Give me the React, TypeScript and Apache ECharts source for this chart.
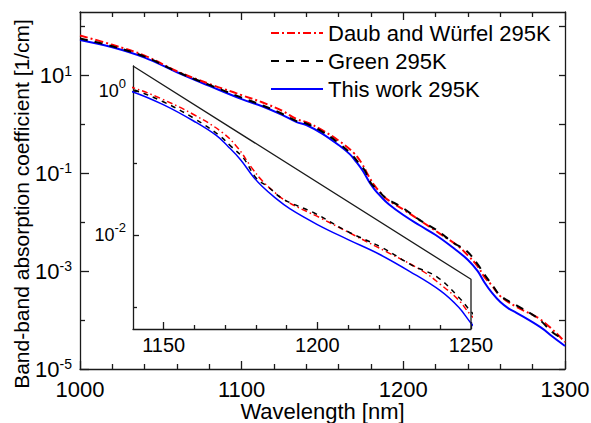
import React, { useEffect, useRef } from 'react';
import * as echarts from 'echarts';

const FONT = '"Liberation Sans", Arial, Helvetica, sans-serif';

const seriesNames = ['Daub and Würfel 295K', 'Green 295K', 'This work 295K'];

// Daub and Würfel 295K : wavelength [nm] / absorption coefficient [1/cm]
const daubWavelength = [1000, 1020, 1040, 1060, 1080, 1095, 1100, 1113, 1125, 1134, 1140, 1149, 1160, 1169, 1174, 1178.6, 1182, 1186, 1190, 1201, 1212, 1223, 1234, 1240, 1246, 1250, 1255, 1260, 1270, 1285, 1300];
const daubAlpha = [66.1, 42.7, 25.7, 12.3, 6.76, 4.57, 3.98, 2.82, 1.91, 1.29, 1.12, 0.794, 0.468, 0.269, 0.166, 0.0871, 0.0575, 0.0398, 0.0295, 0.0174, 0.0100, 0.00575, 0.00324, 0.00209, 0.00126, 0.000776, 0.000501, 0.000309, 0.000186, 0.000102, 0.0000355];

// Green 295K
const greenWavelength = [1000, 1020, 1040, 1060, 1080, 1100, 1113, 1125, 1134, 1140, 1150, 1160, 1168, 1172, 1176, 1180, 1184, 1189, 1199, 1210, 1221, 1231, 1239, 1246, 1250, 1255, 1260, 1270, 1283, 1293, 1300];
const greenAlpha = [57.5, 39.8, 24.5, 12.0, 6.46, 3.55, 2.45, 1.66, 1.17, 1.05, 0.708, 0.417, 0.245, 0.170, 0.117, 0.0631, 0.0468, 0.0316, 0.0204, 0.0112, 0.00676, 0.00380, 0.00263, 0.00138, 0.000871, 0.000525, 0.000316, 0.000200, 0.000110, 0.0000537, 0.0000398];

// This work 295K
const thisWorkWavelength = [1000, 1020, 1040, 1060, 1080, 1100, 1113, 1125, 1134, 1140, 1150, 1160, 1167, 1171, 1175, 1179, 1182, 1186, 1191, 1200, 1210, 1220, 1230, 1240, 1246, 1250, 1255, 1260, 1265, 1270, 1285, 1292, 1300];
const thisWorkAlpha = [53.7, 38.0, 23.4, 11.7, 6.17, 3.31, 2.34, 1.58, 1.12, 0.977, 0.646, 0.380, 0.245, 0.170, 0.112, 0.0661, 0.0479, 0.0339, 0.0234, 0.0141, 0.00871, 0.00550, 0.00316, 0.00170, 0.00100, 0.000603, 0.000355, 0.000234, 0.000174, 0.000141, 0.0000708, 0.0000468, 0.0000295];

// axes (exponents of 10 for the log axes)
const mainXRange = [1000, 1300];
const mainYRange = [1e-5, 200];
const mainYLabelExps = [-5, -3, -1, 1];
const mainYMinorExps = [-4, -2, 0, 2];
const mainYRightExps = [-5, -4, -3, -2, -1, 0, 1, 2];
const insetXRange = [1140, 1250];
const insetXLabels = [1150, 1200, 1250];
const insetXMinor = [1160, 1170, 1180, 1190, 1210, 1220, 1230, 1240];
const insetYRange = [5e-4, 2.24];
const insetYLabelExps = [0, -2];
const insetYMinorExps = [-1, -3];
// inset outline: diagonal top edge and right edge
const insetOutlineX = [1140, 1250, 1250];
const insetOutlineY = [2.24, 0.00245, 5e-4];

const lg = (v: number) => Math.log10(v);
const toPairs = (xs: number[], ys: number[]) => xs.map((x, i) => [x, lg(ys[i])]);

export default function App() {
  const ref = useRef<HTMLDivElement>(null);
  useEffect(() => {
    if (!ref.current) return;
    const chart = echarts.init(ref.current, undefined, { renderer: 'svg' });
    const axisCol = '#1a1a1a';
    const lineStyleAxis = { color: axisCol, width: 1.3 };
    const plain = (v: number) => String(v);

    const mainY = (extra: any) => ({
      type: 'value',
      gridIndex: 0,
      min: lg(mainYRange[0]),
      max: lg(mainYRange[1]),
      splitLine: { show: false },
      ...extra,
    });
    const insetY = (extra: any) => ({
      type: 'value',
      gridIndex: 1,
      min: lg(insetYRange[0]),
      max: lg(insetYRange[1]),
      splitLine: { show: false },
      ...extra,
    });

    const specs = [
      { name: seriesNames[2], xs: thisWorkWavelength, ys: thisWorkAlpha, color: '#0000ff', type: 'solid', instType: 'solid' },
      { name: seriesNames[0], xs: daubWavelength, ys: daubAlpha, color: '#ff0000', type: [8, 3, 2, 3], instType: [6, 3, 1.5, 3] },
      { name: seriesNames[1], xs: greenWavelength, ys: greenAlpha, color: '#000000', type: [8, 7], instType: [5, 5] },
    ];

    const series: any[] = [];
    specs.forEach((s) => {
      series.push({
        type: 'line', name: s.name, xAxisIndex: 0, yAxisIndex: 0,
        data: toPairs(s.xs, s.ys), symbol: 'none', smooth: 0.4,
        lineStyle: { color: s.color, width: 2, type: s.type, cap: 'butt' },
        itemStyle: { color: s.color }, silent: true,
      });
    });
    specs.forEach((s) => {
      series.push({
        type: 'line', name: s.name, xAxisIndex: 2, yAxisIndex: 3,
        data: toPairs(s.xs, s.ys), symbol: 'none', smooth: 0.4, clip: true,
        lineStyle: { color: s.color, width: 1.5, type: s.instType, cap: 'butt' },
        itemStyle: { color: s.color }, silent: true,
      });
    });
    series.push({
      type: 'line', name: 'inset outline', xAxisIndex: 2, yAxisIndex: 3,
      data: toPairs(insetOutlineX, insetOutlineY), symbol: 'none', clip: false,
      lineStyle: { color: axisCol, width: 1.3 }, silent: true,
    });

    chart.setOption({
      animation: false,
      backgroundColor: '#ffffff',
      textStyle: { fontFamily: FONT, color: '#000' },
      grid: [
        { left: 80, right: 26, top: 12, bottom: 54, outerBoundsMode: 'none' },
        { left: 133, right: 120, top: 66, bottom: 94, outerBoundsMode: 'none' },
      ],
      legend: {
        data: seriesNames,
        orient: 'vertical',
        left: 270,
        top: 22,
        padding: 0,
        itemWidth: 52,
        itemHeight: 14,
        itemGap: 6,
        selectedMode: false,
        itemStyle: { opacity: 0 },
        textStyle: { fontSize: 22, fontFamily: FONT, color: '#000' },
      },
      graphic: [
        {
          type: 'text', x: 21, y: 204, rotation: Math.PI / 2,
          style: {
            text: 'Band-band absorption coefficient [1/cm]',
            fontSize: 21, fontFamily: FONT, fill: '#000',
            align: 'center', verticalAlign: 'middle',
          },
        },
      ],
      xAxis: [
        {
          type: 'value', gridIndex: 0, position: 'bottom',
          min: mainXRange[0], max: mainXRange[1], interval: 100,
          axisLine: { onZero: false, lineStyle: lineStyleAxis },
          axisTick: { inside: true, length: 8, lineStyle: lineStyleAxis },
          minorTick: { show: true, splitNumber: 5, length: 5, lineStyle: lineStyleAxis },
          splitLine: { show: false },
          axisLabel: { fontSize: 22, margin: 9, color: '#000', fontFamily: FONT, formatter: plain },
          name: 'Wavelength [nm]', nameLocation: 'middle', nameGap: 31, nameMoveOverlap: false,
          nameTextStyle: { fontSize: 22, fontFamily: FONT, color: '#000' },
        },
        {
          type: 'value', gridIndex: 0, position: 'top',
          min: mainXRange[0], max: mainXRange[1], interval: 100,
          axisLine: { onZero: false, lineStyle: lineStyleAxis },
          axisTick: { inside: true, length: 8, lineStyle: lineStyleAxis },
          minorTick: { show: true, splitNumber: 5, length: 5, lineStyle: lineStyleAxis },
          splitLine: { show: false },
          axisLabel: { show: false },
        },
        {
          type: 'value', gridIndex: 1, position: 'bottom',
          min: insetXRange[0], max: insetXRange[1],
          axisLine: { onZero: false, lineStyle: lineStyleAxis },
          axisTick: { inside: true, length: 7, customValues: insetXLabels, lineStyle: lineStyleAxis },
          splitLine: { show: false },
          axisLabel: { customValues: insetXLabels, fontSize: 20, margin: 6, color: '#000', fontFamily: FONT, formatter: plain },
        },
        {
          type: 'value', gridIndex: 1, position: 'bottom',
          min: insetXRange[0], max: insetXRange[1],
          axisLine: { show: false, onZero: false },
          axisTick: { inside: true, length: 4, customValues: insetXMinor, lineStyle: lineStyleAxis },
          splitLine: { show: false },
          axisLabel: { show: false },
        },
      ],
      yAxis: [
        mainY({
          position: 'left',
          axisLine: { show: true, onZero: false, lineStyle: lineStyleAxis },
          axisTick: { show: true, inside: true, length: 9, customValues: mainYLabelExps, lineStyle: lineStyleAxis },
          axisLabel: {
            customValues: mainYLabelExps, margin: 8,
            formatter: (v: number) => `{b|10}{s|${Math.round(v)}}`,
            rich: {
              b: { fontSize: 22, fontFamily: FONT, color: '#000' },
              s: { fontSize: 14, fontFamily: FONT, color: '#000', padding: [0, 0, 10, 0] },
            },
          },
        }),
        mainY({
          position: 'left',
          axisLine: { show: false, onZero: false },
          axisTick: { show: true, inside: true, length: 5, customValues: mainYMinorExps, lineStyle: lineStyleAxis },
          axisLabel: { show: false },
        }),
        mainY({
          position: 'right',
          axisLine: { show: true, onZero: false, lineStyle: lineStyleAxis },
          axisTick: { show: true, inside: true, length: 6, customValues: mainYRightExps, lineStyle: lineStyleAxis },
          axisLabel: { show: false },
        }),
        insetY({
          position: 'left',
          axisLine: { show: true, onZero: false, lineStyle: lineStyleAxis },
          axisTick: { show: true, inside: true, length: 6, customValues: insetYLabelExps, lineStyle: lineStyleAxis },
          axisLabel: {
            customValues: insetYLabelExps, margin: 7,
            formatter: (v: number) => `{b|10}{s|${Math.round(v)}}`,
            rich: {
              b: { fontSize: 18, fontFamily: FONT, color: '#000' },
              s: { fontSize: 13, fontFamily: FONT, color: '#000', padding: [0, 0, 16, 0] },
            },
          },
        }),
        insetY({
          position: 'left',
          axisLine: { show: false, onZero: false },
          axisTick: { show: true, inside: true, length: 4, customValues: insetYMinorExps, lineStyle: lineStyleAxis },
          axisLabel: { show: false },
        }),
      ],
      series,
    });
    return () => chart.dispose();
  }, []);
  return <div ref={ref} style={{ position: 'fixed', left: 0, top: 0, width: 591, height: 423 }} />;
}
